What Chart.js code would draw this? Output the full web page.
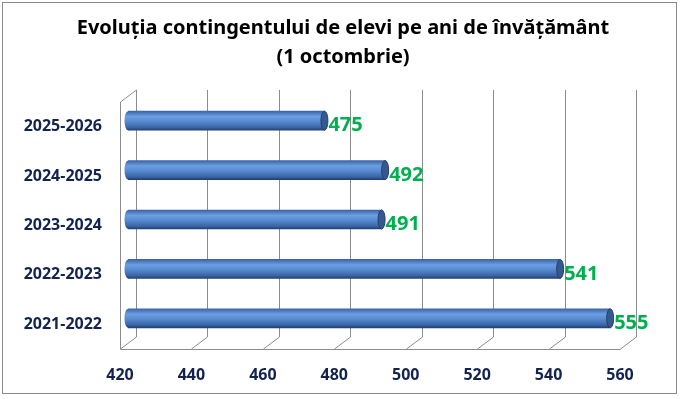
<!DOCTYPE html>
<html>
<head>
<meta charset="utf-8">
<script src="https://cdn.jsdelivr.net/npm/chart.js@4.4.1/dist/chart.umd.min.js"></script>
<style>
  html, body { margin: 0; padding: 0; background: #fff; }
  #c { display: block; }
</style>
</head>
<body>
<canvas id="c" width="680" height="399"></canvas>
<script>
// data (top to bottom as in the picture)
const years = ['2025-2026', '2024-2025', '2023-2024', '2022-2023', '2021-2022'];
const pupils = [475, 492, 491, 541, 555];
const xMin = 420;
const xMax = 560;
const xStep = 20;
const titleLines = ['Evoluția contingentului de elevi pe ani de învățământ', '(1 octombrie)'];

const DX = 16, DY = -12;   // depth of the 3d box
const gridCol = '#8c8c8c';
const navy = '#13234f';

function barGradient(ctx, y, h) {
  const g = ctx.createLinearGradient(0, y - h / 2, 0, y + h / 2);
  g.addColorStop(0, '#3a64a8');
  g.addColorStop(0.28, '#6d9ee2');
  g.addColorStop(0.55, '#5689cf');
  g.addColorStop(0.85, '#3b65a7');
  g.addColorStop(1, '#24406f');
  return g;
}

// box walls, gridlines, outer frame
const frame3d = {
  id: 'frame3d',
  beforeDraw(chart) {
    const ctx = chart.ctx;
    ctx.save();
    ctx.fillStyle = '#fff';
    ctx.fillRect(0, 0, chart.width, chart.height);
    ctx.strokeStyle = '#8a8a8a';
    ctx.lineWidth = 1;
    ctx.strokeRect(2.5, 2.5, 674, 391);
    ctx.restore();
  },
  beforeDatasetsDraw(chart) {
    const ctx = chart.ctx;
    const a = chart.chartArea;
    const xs = chart.scales.x;
    ctx.save();
    ctx.strokeStyle = gridCol;
    ctx.lineWidth = 1;
    ctx.beginPath();
    xs.ticks.forEach(t => {
      const x = Math.round(xs.getPixelForValue(t.value)) + 0.5;
      // back wall line
      ctx.moveTo(x + DX, a.top + DY);
      ctx.lineTo(x + DX, a.bottom + DY);
      // floor diagonal
      ctx.moveTo(x, a.bottom);
      ctx.lineTo(x + DX, a.bottom + DY);
    });
    const l = Math.round(a.left) + 0.5;
    const b = Math.round(a.bottom) + 0.5;
    ctx.moveTo(l, b);
    ctx.lineTo(Math.round(a.right) + 0.5, b);
    ctx.moveTo(l, a.top);
    ctx.lineTo(l, b);
    ctx.moveTo(l, a.top);
    ctx.lineTo(l + DX, a.top + DY);
    ctx.stroke();
    ctx.restore();

    // bars sit in the middle of the depth
    ctx.save();
    ctx.translate(DX / 2, DY / 2);
    const meta = chart.getDatasetMeta(0);
    meta.data.forEach(bar => {
      const h = bar.height;
      ctx.beginPath();
      ctx.ellipse(bar.base, bar.y, 3.5, h / 2, 0, 0, Math.PI * 2);
      ctx.fillStyle = barGradient(ctx, bar.y, h);
      ctx.fill();
    });
  },
  afterDatasetsDraw(chart) {
    const ctx = chart.ctx;
    const meta = chart.getDatasetMeta(0);
    meta.data.forEach(bar => {
      const h = bar.height;
      ctx.beginPath();
      ctx.ellipse(bar.x, bar.y, 3.5, h / 2, 0, 0, Math.PI * 2);
      ctx.fillStyle = '#34598f';
      ctx.fill();
      ctx.strokeStyle = '#243f6b';
      ctx.lineWidth = 1;
      ctx.stroke();
    });
    ctx.restore();

    // value labels
    ctx.save();
    ctx.font = 'bold 20px "Noto Sans"';
    ctx.fillStyle = '#00b050';
    ctx.textAlign = 'left';
    ctx.textBaseline = 'middle';
    meta.data.forEach((bar, i) => {
      ctx.fillText(String(pupils[i]), bar.x + DX / 2 + 4, bar.y + DY / 2 + 5);
    });
    ctx.restore();
  }
};

new Chart(document.getElementById('c'), {
  type: 'bar',
  data: {
    labels: years,
    datasets: [{
      data: pupils,
      base: xMin,
      barThickness: 19,
      borderWidth: 0,
      backgroundColor(context) {
        const chart = context.chart;
        const ys = chart.scales && chart.scales.y;
        if (!ys || !chart.chartArea) return '#4f81c9';
        const y = ys.getPixelForValue(context.dataIndex);
        return barGradient(chart.ctx, y, 19);
      }
    }]
  },
  options: {
    indexAxis: 'y',
    responsive: false,
    animation: false,
    layout: { padding: { left: 6, right: 0, top: 0, bottom: 0 } },
    plugins: {
      legend: { display: false },
      tooltip: { enabled: false },
      title: {
        display: true,
        text: titleLines,
        color: '#000',
        font: { family: 'Noto Sans', size: 20, weight: 'bold', lineHeight: '29px' },
        padding: { top: 14, bottom: 30 }
      }
    },
    scales: {
      x: {
        min: xMin,
        max: xMax,
        grid: { display: false, drawTicks: false },
        border: { display: false },
        ticks: {
          stepSize: xStep,
          padding: 17,
          color: navy,
          font: { family: 'Noto Sans', size: 16, weight: 'bold' }
        },
        afterFit(scale) { scale.height = 50; }
      },
      y: {
        grid: { display: false, drawTicks: false },
        border: { display: false },
        ticks: {
          padding: 18,
          color: navy,
          font: { family: 'Noto Sans', size: 16, weight: 'bold' }
        },
        afterFit(scale) { scale.width = 114; }
      },
      // empty strip on the right, keeps the plot narrower than the title
      yRight: {
        type: 'category',
        position: 'right',
        grid: { display: false, drawTicks: false },
        border: { display: false },
        ticks: { display: false },
        afterFit(scale) { scale.width = 60; }
      }
    }
  },
  plugins: [frame3d]
});
</script>
</body>
</html>
